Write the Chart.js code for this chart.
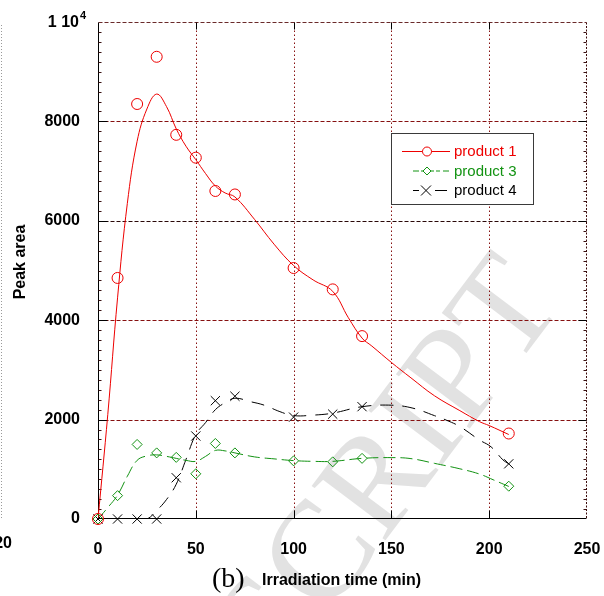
<!DOCTYPE html>
<html>
<head>
<meta charset="utf-8">
<script src="https://cdn.jsdelivr.net/npm/chart.js@4/dist/chart.umd.min.js"></script>
<style>
  html, body { margin: 0; padding: 0; background: #fff; }
  #wrap { width: 604px; height: 596px; position: relative; }
</style>
</head>
<body>
<div id="wrap"><canvas id="c" width="604" height="596"></canvas></div>
<script>
// Measured peak areas
const timeMin  = [0, 10, 20, 30, 40, 50, 60, 70, 100, 120, 135, 210];
const product1 = [0, 4850, 8350, 9300, 7730, 7270, 6600, 6530, 5050, 4620, 3680, 1720];
const product3 = [0, 470, 1500, 1330, 1240, 910, 1520, 1330, 1170, 1150, 1220, 660];
const product4 = [0, 0, 0, 0, 830, 1670, 2380, 2470, 2050, 2110, 2260, 1110];

// Smoothed trend curves
const fitTime1 = [0, 5, 10, 15, 20, 25, 30, 35, 40, 45, 50, 55, 60, 65, 70, 80, 90, 100, 110, 120, 128, 135, 140, 150, 160, 172, 185, 195, 200, 210];
const fit1     = [0, 2100, 4450, 6350, 7600, 8250, 8550, 8300, 7850, 7500, 7230, 6950, 6700, 6560, 6480, 6030, 5530, 5100, 4810, 4580, 4050, 3640, 3480, 3150, 2840, 2480, 2180, 1960, 1880, 1700];
const fitTime3 = [0, 5, 10, 15, 20, 25, 30, 35, 40, 45, 50, 55, 60, 65, 70, 80, 90, 100, 110, 120, 135, 150, 160, 172, 185, 195, 202, 210];
const fit3     = [0, 230, 480, 860, 1180, 1270, 1290, 1260, 1220, 1180, 1160, 1260, 1380, 1370, 1330, 1250, 1210, 1175, 1160, 1160, 1220, 1235, 1215, 1120, 1010, 905, 790, 655];
const fitTime4 = [0, 10, 20, 25, 30, 35, 40, 45, 50, 55, 60, 65, 70, 78, 85, 93, 100, 110, 120, 135, 150, 161, 172, 178, 185, 195, 201, 207, 210];
const fit4     = [0, 0, 0, 0, 170, 390, 700, 1200, 1700, 1940, 2200, 2340, 2430, 2360, 2290, 2160, 2080, 2090, 2130, 2260, 2290, 2230, 2080, 1990, 1860, 1590, 1450, 1190, 1110];

// Axis ticks
const xTicks = [0, 50, 100, 150, 200, 250];
const yTicks = [0, 2000, 4000, 6000, 8000, 10000];

const RED = '#ee0000', GREEN = '#139313', BLACK = '#000000', MAROON = '#861010';

const pts = (xs, ys) => xs.map((x, i) => ({ x: x, y: ys[i] }));

const legendItems = [
  { label: 'product 1', color: RED,   x0: 402, x1: 450, dash: [],              marker: 'circle' },
  { label: 'product 3', color: GREEN, x0: 413, x1: 450, dash: [6, 2, 4, 3],    marker: 'rectRot' },
  { label: 'product 4', color: BLACK, x0: 413, x1: 447, dash: [6, 16, 12, 0],  marker: 'crossRot' }
];

const frame = {
  id: 'frame',
  beforeDraw(chart) {
    const ctx = chart.ctx;
    ctx.save();
    ctx.fillStyle = '#fff';
    ctx.fillRect(0, 0, chart.width, chart.height);
    // faint diagonal stamp
    ctx.translate(565, 302);
    ctx.rotate(-0.925);
    ctx.font = '140px "Liberation Serif", "Times New Roman", serif';
    ctx.fillStyle = '#e2e2e2';
    ctx.textAlign = 'right';
    ctx.textBaseline = 'alphabetic';
    ctx.fillText('ACCEPTED MANUSCRIPT', 0, 0);
    ctx.restore();
    // neighbouring panel edge
    ctx.save();
    ctx.strokeStyle = '#9a9a9a';
    ctx.setLineDash([1, 2]);
    ctx.beginPath(); ctx.moveTo(1.5, 25); ctx.lineTo(1.5, 519); ctx.stroke();
    ctx.restore();
  },
  beforeDatasetsDraw(chart) {
    const ctx = chart.ctx, xs = chart.scales.x, ys = chart.scales.y;
    const { left, right, top, bottom } = chart.chartArea;
    const L = Math.round(left) + 0.5, R = Math.round(right) - 0.5;
    const T = Math.round(top) + 0.5, B = Math.round(bottom) - 0.5;
    ctx.save();
    ctx.lineWidth = 1;
    // horizontal grid
    yTicks.slice(1, -1).forEach(v => {
      const y = Math.round(ys.getPixelForValue(v)) + 0.5;
      ctx.strokeStyle = v === 6000 ? '#2a0808' : MAROON;
      ctx.setLineDash([4, 2]);
      ctx.beginPath(); ctx.moveTo(L, y); ctx.lineTo(R, y); ctx.stroke();
    });
    // vertical grid
    xTicks.slice(1, -1).forEach(v => {
      const x = Math.round(xs.getPixelForValue(v)) + 0.5;
      ctx.strokeStyle = MAROON;
      ctx.setLineDash([1.5, 2.5]);
      ctx.beginPath(); ctx.moveTo(x, T); ctx.lineTo(x, B); ctx.stroke();
    });
    // top and right frame
    ctx.strokeStyle = '#6a2a2a';
    ctx.setLineDash([4, 2]);
    ctx.beginPath(); ctx.moveTo(L, T); ctx.lineTo(R, T); ctx.stroke();
    ctx.strokeStyle = '#3a0a0a';
    ctx.setLineDash([2, 1.5]);
    ctx.beginPath(); ctx.moveTo(R, T); ctx.lineTo(R, B); ctx.stroke();
    // left and bottom axes
    ctx.setLineDash([]);
    ctx.strokeStyle = BLACK;
    ctx.beginPath(); ctx.moveTo(L, T); ctx.lineTo(L, B); ctx.lineTo(R, B); ctx.stroke();
    // minor ticks
    for (let v = 200; v < 10000; v += 200) {
      const y = Math.round(ys.getPixelForValue(v)) + 0.5;
      ctx.strokeStyle = '#3a1010';
      ctx.beginPath(); ctx.moveTo(L, y); ctx.lineTo(L + 3, y); ctx.stroke();
      ctx.beginPath(); ctx.moveTo(R, y); ctx.lineTo(R - 3, y); ctx.stroke();
    }
    // major ticks
    ctx.strokeStyle = BLACK;
    yTicks.slice(1, -1).forEach(v => {
      const y = Math.round(ys.getPixelForValue(v)) + 0.5;
      ctx.beginPath(); ctx.moveTo(L, y); ctx.lineTo(L + 9, y); ctx.stroke();
      ctx.beginPath(); ctx.moveTo(R, y); ctx.lineTo(R - 8, y); ctx.stroke();
    });
    xTicks.slice(1, -1).forEach(v => {
      const x = Math.round(xs.getPixelForValue(v)) + 0.5;
      ctx.beginPath(); ctx.moveTo(x, B); ctx.lineTo(x, B - 8); ctx.stroke();
      ctx.beginPath(); ctx.moveTo(x, T); ctx.lineTo(x, T + 7); ctx.stroke();
    });
    ctx.restore();
  },
  afterDraw(chart) {
    const ctx = chart.ctx, ys = chart.scales.y;
    ctx.save();
    ctx.fillStyle = BLACK;
    // top y label "1 10^4"
    const yTop = ys.getPixelForValue(10000);
    ctx.font = 'bold 16px "Liberation Sans", Arial, sans-serif';
    ctx.textAlign = 'right';
    ctx.textBaseline = 'middle';
    ctx.fillText('1 10', 79, yTop + 1);
    ctx.font = 'bold 11px "Liberation Sans", Arial, sans-serif';
    ctx.textAlign = 'left';
    ctx.fillText('4', 80, yTop - 6);
    // axis titles
    ctx.font = 'bold 16px "Liberation Sans", Arial, sans-serif';
    ctx.textAlign = 'left';
    ctx.fillText('Irradiation time (min)', 262, 581);
    ctx.font = '28px "Liberation Serif", "Times New Roman", serif';
    ctx.fillText('(b)', 212, 580);
    ctx.save();
    ctx.translate(21, 262);
    ctx.rotate(-Math.PI / 2);
    ctx.font = 'bold 16px "Liberation Sans", Arial, sans-serif';
    ctx.textAlign = 'center';
    ctx.fillText('Peak area', 0, 0);
    ctx.restore();
    // cut-off label of the neighbouring panel
    ctx.font = 'bold 16px "Liberation Sans", Arial, sans-serif';
    ctx.textAlign = 'right';
    ctx.fillText('20', 12, 544);
    // legend
    const bx = 391.5, by = 133.5, bw = 142, bh = 71;
    ctx.fillStyle = '#fff';
    ctx.fillRect(bx, by, bw, bh);
    ctx.strokeStyle = '#3a3a3a';
    ctx.lineWidth = 1;
    ctx.strokeRect(bx, by, bw, bh);
    legendItems.forEach((it, i) => {
      const y = 151.5 + i * 19.5;
      ctx.strokeStyle = it.color;
      ctx.setLineDash(it.dash);
      ctx.beginPath(); ctx.moveTo(it.x0, y); ctx.lineTo(it.x1, y); ctx.stroke();
      ctx.setLineDash([]);
      ctx.fillStyle = '#fff';
      if (it.marker === 'circle') {
        ctx.beginPath(); ctx.arc(427, y, 4.5, 0, Math.PI * 2); ctx.fill(); ctx.stroke();
      } else if (it.marker === 'rectRot') {
        ctx.beginPath(); ctx.moveTo(427, y - 4); ctx.lineTo(431, y); ctx.lineTo(427, y + 4); ctx.lineTo(423, y); ctx.closePath(); ctx.fill(); ctx.stroke();
      } else {
        ctx.beginPath(); ctx.moveTo(421, y - 5); ctx.lineTo(431, y + 5); ctx.moveTo(431, y - 5); ctx.lineTo(421, y + 5); ctx.stroke();
      }
      ctx.fillStyle = it.color;
      ctx.font = '15px "Liberation Sans", Arial, sans-serif';
      ctx.textAlign = 'left';
      ctx.textBaseline = 'middle';
      ctx.fillText(it.label, 454, y + 0.5);
    });
    ctx.restore();
  }
};

const curve = (xs, ys, color, dash) => ({
  data: pts(xs, ys), borderColor: color, borderWidth: 1, borderDash: dash,
  pointRadius: 0, tension: 0.4, fill: false, showLine: true
});
const marks = (ys, color, style, r) => ({
  data: pts(timeMin, ys), borderColor: color, backgroundColor: 'rgba(0,0,0,0)',
  pointStyle: style, pointRadius: r, pointBorderWidth: 1, showLine: false, clip: false
});

new Chart(document.getElementById('c'), {
  type: 'line',
  data: {
    datasets: [
      marks(product1, RED, 'circle', 5.5),
      marks(product3, GREEN, 'rectRot', 5),
      marks(product4, BLACK, 'crossRot', 6.5),
      curve(fitTime1, fit1, RED, []),
      curve(fitTime3, fit3, GREEN, [12, 5]),
      curve(fitTime4, fit4, BLACK, [13, 9])
    ]
  },
  options: {
    responsive: false,
    animation: false,
    events: [],
    layout: { padding: { left: 0, right: 17, top: 22, bottom: 0 } },
    plugins: { legend: { display: false }, tooltip: { enabled: false } },
    scales: {
      x: {
        type: 'linear', min: 0, max: 250,
        afterBuildTicks: s => { s.ticks = xTicks.map(v => ({ value: v })); },
        afterFit: s => { s.height = 77; s.paddingLeft = 0; s.paddingRight = 0; },
        grid: { display: false }, border: { display: false },
        ticks: { color: BLACK, padding: 13, maxRotation: 0,
                 font: { family: '"Liberation Sans", Arial, sans-serif', size: 16, weight: 'bold' } }
      },
      y: {
        type: 'linear', min: 0, max: 10000,
        afterBuildTicks: s => { s.ticks = yTicks.map(v => ({ value: v })); },
        afterFit: s => { s.width = 98; s.paddingTop = 0; s.paddingBottom = 0; },
        grid: { display: false }, border: { display: false },
        ticks: { color: BLACK, padding: 10,
                 callback: v => (v === 10000 ? '' : String(v)),
                 font: { family: '"Liberation Sans", Arial, sans-serif', size: 16, weight: 'bold' } }
      }
    }
  },
  plugins: [frame]
});
</script>
</body>
</html>
